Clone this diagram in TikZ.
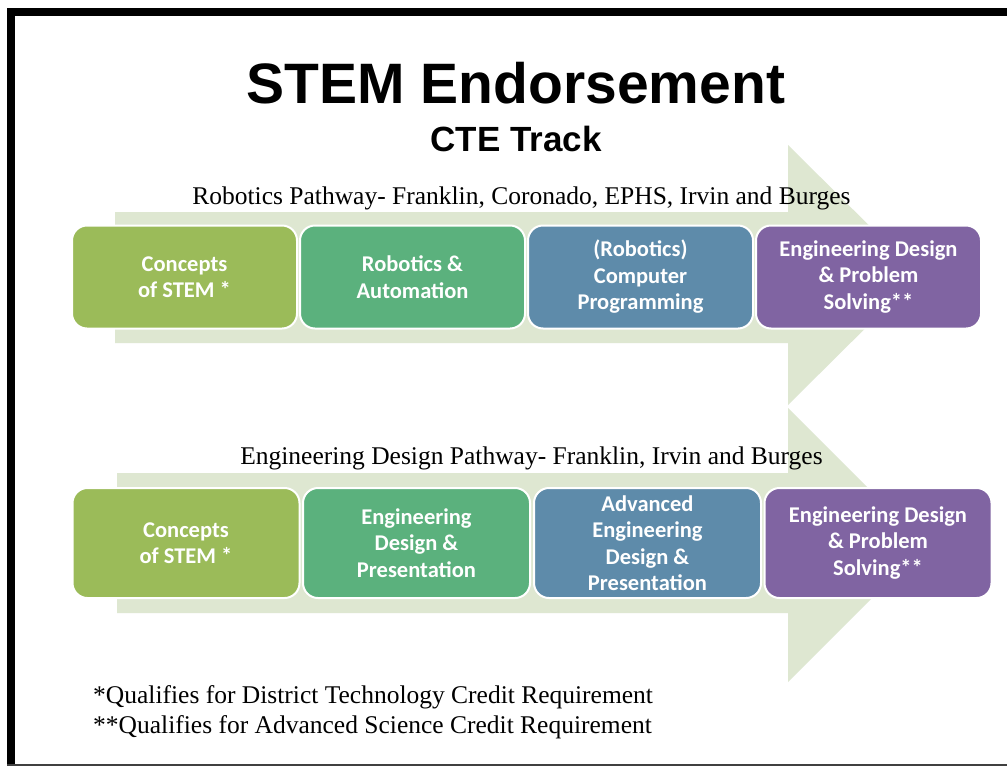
\documentclass[tikz,border=0pt]{standalone}
\usepackage{fontspec}
\setmainfont{Liberation Serif}
\newfontfamily\arialf{Liberation Sans}
\newfontfamily\calib{Carlito}
\definecolor{olivebox}{HTML}{9BBB59}
\definecolor{greenbox}{HTML}{5BB17D}
\definecolor{bluebox}{HTML}{5E8BAA}
\definecolor{purplebox}{HTML}{8064A2}
\definecolor{arrowfill}{HTML}{DEE7D1}
\begin{document}
\begin{tikzpicture}[x=1pt,y=-1pt,
  box/.style={draw=white, line width=2pt, rounded corners=15pt, text=white,
    font=\calib\bfseries\fontsize{22.5}{26.5}\selectfont, align=center, inner sep=0pt},
  upbox/.style={box, minimum width=225pt, minimum height=103pt},
  lowbox/.style={box, minimum width=227pt, minimum height=110pt},
  pathlabel/.style={font=\fontsize{25.5}{30}\selectfont, anchor=base, inner sep=0pt},
  note/.style={font=\fontsize{25.5}{30}\selectfont, anchor=base west, inner sep=0pt}]
\useasboundingbox (0,0) rectangle (1007,766);
\fill[white] (0,0) rectangle (1007,766);
% frame
\fill[black] (7,8) rectangle (1007,16);
\fill[black] (7,8) rectangle (15,766);
\draw[black!75, line width=1.2pt] (7,765) -- (1007,765);
% titles
\node[font=\arialf\bfseries\fontsize{57}{64}\selectfont, anchor=base, inner sep=0pt] (title) at (516,103) {STEM Endorsement};
\node[font=\arialf\bfseries\fontsize{35}{40}\selectfont, anchor=base, inner sep=0pt] (sub) at (516,151) {CTE Track};
% big arrows
\fill[arrowfill] (115,212) -- (788,212) -- (788,145) -- (919,275) -- (788,405) -- (788,343) -- (115,343) -- cycle;
\fill[arrowfill] (117,473) -- (788,473) -- (788,408) -- (925,545) -- (788,682) -- (788,613) -- (117,613) -- cycle;
% pathway labels
\node[pathlabel] (p1) at (521.5,204) {Robotics Pathway- Franklin, Coronado, EPHS, Irvin and Burges};
\node[pathlabel] (p2) at (531.5,464) {Engineering Design Pathway- Franklin, Irvin and Burges};
% upper row
\node[upbox, fill=olivebox] (r1) at (184.5,277) {Concepts\\of STEM *};
\node[upbox, fill=greenbox] (r2) at (412.5,277) {Robotics \&\\Automation};
\node[upbox, fill=bluebox] (r3) at (640.5,277) {(Robotics)\\Computer\\Programming};
\node[upbox, fill=purplebox] (r4) at (868.5,277) {Engineering Design\\\& Problem\\Solving**};
% lower row
\node[lowbox, fill=olivebox] (e1) at (186,543) {Concepts\\of STEM *};
\node[lowbox, fill=greenbox] (e2) at (416.5,543) {Engineering\\Design \&\\Presentation};
\node[lowbox, fill=bluebox] (e3) at (647.5,543) {Advanced\\Engineering\\Design \&\\Presentation};
\node[lowbox, fill=purplebox] (e4) at (878,543) {Engineering Design\\\& Problem\\Solving**};
% notes
\node[note] (n1) at (93,703) {*Qualifies for District Technology Credit Requirement};
\node[note] (n2) at (93,733) {**Qualifies for Advanced Science Credit Requirement};
\end{tikzpicture}
\end{document}
